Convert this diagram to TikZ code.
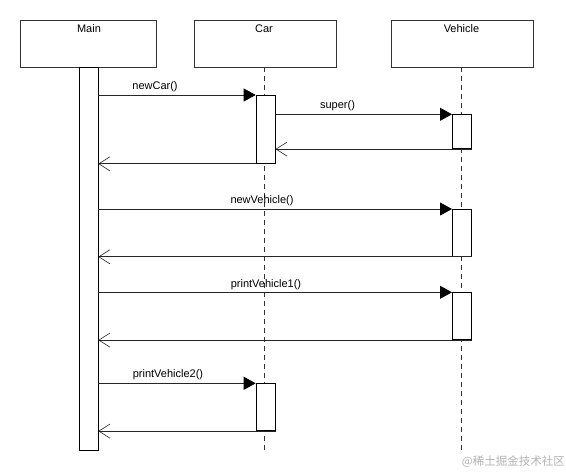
\documentclass[tikz,border=0pt]{standalone}
\usepackage{fontspec}
\setmainfont{Liberation Sans}
\newfontfamily\cjk{Noto Sans CJK SC}
\usetikzlibrary{arrows.meta}
\begin{document}
\begin{tikzpicture}[x=1pt,y=-1pt,
  objbox/.style={draw=black!80, line width=0.8pt, anchor=north west, inner sep=0pt, minimum height=47pt},
  objlbl/.style={font=\fontsize{11}{13}\selectfont, inner sep=0pt},
  actbox/.style={draw=black, fill=white, line width=0.8pt, anchor=north west, inner sep=0pt, minimum width=19pt},
  lifeline/.style={draw=black!80, line width=0.7pt, dash pattern=on 5pt off 4pt},
  callmsg/.style={draw=black!85, line width=0.8pt, -{Triangle[length=12pt,width=13pt,color=black]}},
  retmsg/.style={draw=black!85, line width=0.8pt, -{Straight Barb[length=11pt,width=14pt,line width=0.6pt]}},
  msglbl/.style={font=\fontsize{11}{13}\selectfont, inner sep=0pt, anchor=center}]
\useasboundingbox (0,0) rectangle (566,472);

% objects
\node[objbox, minimum width=136pt] (main) at (20,20) {};
\node[objbox, minimum width=142pt] (car) at (193.5,20) {};
\node[objbox, minimum width=142pt] (veh) at (390.5,20) {};
\node[objlbl] (mainlbl) at (89,29) {Main};
\node[objlbl] (carlbl) at (264,29) {Car};
\node[objlbl] (vehlbl) at (461.5,29) {Vehicle};

% lifelines
\coordinate (carend) at (264.5,450);
\coordinate (vehend) at (461.5,450);
\draw[lifeline] (264.5,67.3) -- (carend);
\draw[lifeline] (461.5,67.3) -- (vehend);

% activations
\node[actbox, minimum height=383pt] (ma) at (78.5,67.3) {};
\node[actbox, minimum height=68pt] (ca1) at (255.7,95) {};
\node[actbox, minimum height=34pt] (va1) at (452,114.3) {};
\node[actbox, minimum height=47pt] (va2) at (452,209) {};
\node[actbox, minimum height=47pt] (va3) at (452,292.3) {};
\node[actbox, minimum height=47pt] (ca2) at (255.7,383.3) {};

% newCar()
\draw[callmsg] (ma.east |- ca1.north west) -- (ca1.north west);
\node[msglbl] (l1) at (155,87) {newCar()};
\draw[retmsg] (ca1.south west) -- (ma.east |- ca1.south west);
% super()
\draw[callmsg] (ca1.east |- va1.north west) -- (va1.north west);
\node[msglbl] (l2) at (337.5,106) {super()};
\draw[retmsg] (va1.south east) -- (ca1.east |- va1.south east);
% newVehicle()
\draw[callmsg] (ma.east |- va2.north west) -- (va2.north west);
\node[msglbl] (l3) at (262,201) {newVehicle()};
\draw[retmsg] (va2.south east) -- (ma.east |- va2.south east);
% printVehicle1()
\draw[callmsg] (ma.east |- va3.north west) -- (va3.north west);
\node[msglbl] (l4) at (266,284.5) {printVehicle1()};
\draw[retmsg] (va3.south east) -- (ma.east |- va3.south east);
% printVehicle2()
\draw[callmsg] (ma.east |- ca2.north west) -- (ca2.north west);
\node[msglbl] (l5) at (168,374.5) {printVehicle2()};
\draw[retmsg] (ca2.south east) -- (ma.east |- ca2.south east);

% watermark
\node[inner sep=0pt, anchor=east, text=black!30, font=\cjk\fontsize{11.5}{13}\selectfont] (wm) at (565,462) {@稀土掘金技术社区};
\end{tikzpicture}
\end{document}
